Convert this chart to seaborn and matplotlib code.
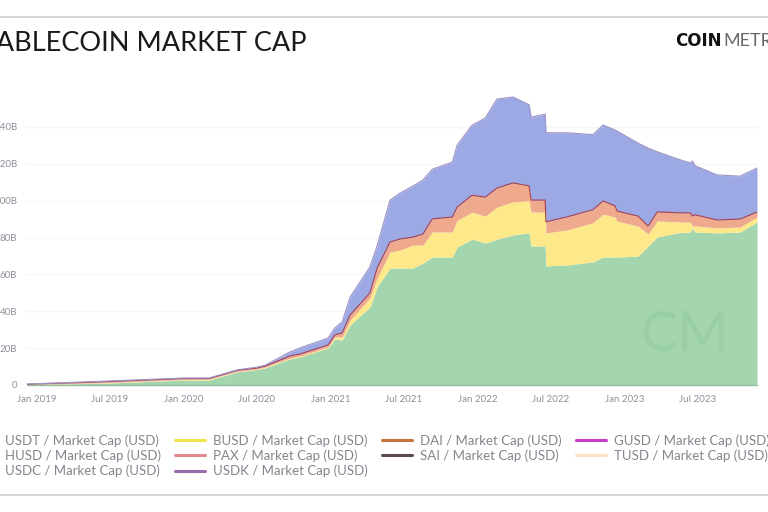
import pandas as pd
import seaborn as sns
import matplotlib.pyplot as plt
import matplotlib.dates as mdates
from matplotlib.lines import Line2D

# values in billions of USD
DATES = ['2018-12-07', '2019-01-01', '2019-07-02', '2020-01-02', '2020-03-04', '2020-05-13',
         '2020-07-01', '2020-07-21', '2020-09-21', '2020-10-16', '2020-12-25', '2021-01-11',
         '2021-01-29', '2021-02-18', '2021-04-08', '2021-04-26', '2021-05-28', '2021-06-22',
         '2021-07-24', '2021-08-18', '2021-09-10', '2021-10-30', '2021-11-11', '2021-12-18',
         '2022-01-20', '2022-02-18', '2022-03-30', '2022-05-09', '2022-05-14', '2022-06-18',
         '2022-06-20', '2022-08-12', '2022-10-15', '2022-11-09', '2022-12-09', '2022-12-14',
         '2023-02-04', '2023-03-01', '2023-03-24', '2023-05-12', '2023-06-14', '2023-06-19',
         '2023-06-26', '2023-08-20', '2023-10-16', '2023-11-27']
USDT = [0, 0.2, 1.1, 2.7, 2.7, 7.1, 8.4, 9.2, 14.1, 15.2, 20.1, 25.0, 24.4, 32.6, 42.3, 53.2,
        63.4, 63.4, 63.4, 66.1, 69.4, 69.4, 74.8, 79.1, 77.0, 79.1, 81.4, 82.5, 75.4, 75.4,
        64.6, 65.1, 66.8, 69.4, 69.4, 69.4, 69.9, 75.4, 80.3, 82.5, 83.0, 85.2, 83.0, 82.5, 83.0, 88.4]
BUSD = [0, 0.1, 0.3, 0.3, 0.5, 0.3, 0.3, 0.5, 0.5, 0.5, 0.5, 1.1, 1.6, 2.7, 4.9, 4.9,
        8.7, 9.8, 12.5, 9.8, 13.6, 13.6, 14.6, 14.6, 14.6, 17.4, 17.9, 17.4, 18.4, 18.4,
        17.9, 19.0, 21.2, 23.3, 21.7, 19.5, 16.3, 6.5, 8.7, 6.0, 5.4, 1.1, 3.3, 2.7, 2.7, 2.7]
PAX = [0.3, 0.3, 0.5, 0.5, 0.3, 0.5, 0.5, 0.5, 1.1, 1.1, 1.1, 1.1, 2.2, 2.7, 2.7, 5.4,
       5.4, 6.0, 4.3, 6.0, 7.1, 8.1, 7.1, 9.2, 10.3, 10.3, 10.3, 8.1, 6.5, 6.5,
       6.0, 7.1, 7.1, 7.1, 6.0, 5.4, 5.4, 4.3, 4.9, 4.9, 4.9, 5.4, 6.0, 4.3, 4.3, 2.7]
USDC = [0.3, 0.1, 0.3, 0.3, 0.3, 0.3, 0.5, 0.5, 2.2, 3.3, 3.8, 3.8, 6.0, 9.8, 14.1, 12.0,
        22.8, 24.9, 27.7, 29.3, 26.9, 29.8, 33.6, 38.0, 42.9, 48.3, 46.6, 44.0, 45.0, 46.6,
        48.3, 45.6, 40.7, 41.2, 41.2, 43.4, 39.6, 42.3, 32.6, 29.3, 27.1, 29.8, 26.6, 24.4, 23.3, 23.9]

XTICKS = ['2019-01-01', '2019-07-01', '2020-01-01', '2020-07-01', '2021-01-01',
          '2021-07-01', '2022-01-01', '2022-07-01', '2023-01-01', '2023-07-01']
YTICKS = [0, 20, 40, 60, 80, 100, 120, 140]

# the thin series cannot be read from the stack, they only show in the legend
LEGEND = [('USDT', '#a3d5ae'), ('HUSD', '#c9a06a'), ('USDC', '#9da9e4'),
          ('BUSD', '#f2e24a'), ('PAX', '#e08a90'), ('USDK', '#9a6aae'),
          ('DAI', '#c8703a'), ('SAI', '#5e4a4a'),
          ('GUSD', '#c83ac8'), ('TUSD', '#fbe3c4')]

W, H = 768, 512

sns.set_theme(style='white')
plt.rcParams['font.family'] = ['Lato', 'DejaVu Sans']

dates = pd.to_datetime(DATES)
df = pd.DataFrame({'date': dates, 'usdt': USDT, 'busd': BUSD, 'pax': PAX, 'usdc': USDC})
df['y_top'] = df.usdt + df.busd
df['r_top'] = df.y_top + df.pax
df['b_top'] = df.r_top + df.usdc

fig = plt.figure(figsize=(W / 100, H / 100), dpi=100)
ax = fig.add_axes([27 / W, (H - 385) / H, 730 / W, 295 / H])

ax.stackplot(df.date, df.usdt, df.busd, df.pax, df.usdc, lw=0,
             colors=['#a3d5ae', '#fde98a', '#efa98c', '#9da9e4'], zorder=2)
sns.lineplot(data=df, x='date', y='r_top', color='#a8414e', lw=0.8, ax=ax, zorder=3)
sns.lineplot(data=df, x='date', y='b_top', color='#9c93c6', lw=0.8, ax=ax, zorder=3)

ax.set_xlim(pd.Timestamp('2018-12-07'), pd.Timestamp('2023-11-27'))
ax.set_ylim(0, 160)
ax.set_xlabel('')
ax.set_ylabel('')
ax.set_xticks(pd.to_datetime(XTICKS))
ax.xaxis.set_major_formatter(mdates.DateFormatter('%b %Y'))
ax.set_yticks(YTICKS)
ax.set_yticklabels(['0'] + [f'{v}B' for v in YTICKS[1:]])
ax.tick_params(axis='x', length=0, pad=7, labelsize=7, labelcolor='#8f8f9c')
ax.tick_params(axis='y', length=0, pad=7, labelsize=7, labelcolor='#8f8f9c')
ax.grid(axis='y', color='#f6f6f6', lw=1)
ax.set_axisbelow(True)
sns.despine(ax=ax, left=True, top=True, right=True, bottom=True)
ax.plot(df.date, [0] * len(df), color='#8fbf9c', lw=1, zorder=3, clip_on=False)

# watermark
ax.text(pd.Timestamp('2023-02-09'), 27, 'CM', fontsize=40, color='#9acea7',
        ha='left', va='center', zorder=4)

fig.text(307 / W, 1 - 51 / H, 'STABLECOIN MARKET CAP', fontsize=19.5, color='#1a1a1a',
         ha='right', va='baseline')
fig.text(675 / W, 1 - 46 / H, 'COIN', fontsize=12, weight='bold', color='#111111',
         family='DejaVu Sans', ha='left', va='baseline')
fig.text(723 / W, 1 - 46 / H, 'METRICS', fontsize=13, color='#6a6a6a',
         ha='left', va='baseline')

for y in (16.5, 495):
    fig.add_artist(Line2D([0, 1], [1 - y / H] * 2, color='#cccccc', lw=1.2))

handles = [Line2D([], [], color=c, lw=2.2) for _, c in LEGEND]
labels = [f'{n} / Market Cap (USD)' for n, _ in LEGEND]
fig.legend(handles, labels, ncol=4, loc='upper left', bbox_to_anchor=(-33 / W, 1 - 434 / H),
           bbox_transform=fig.transFigure, frameon=False, fontsize=9.5, labelcolor='#85858f',
           handlelength=2.3, handletextpad=0.6, columnspacing=1.05, labelspacing=0.22,
           borderpad=0, borderaxespad=0)

fig.savefig('out.png', dpi=100)
